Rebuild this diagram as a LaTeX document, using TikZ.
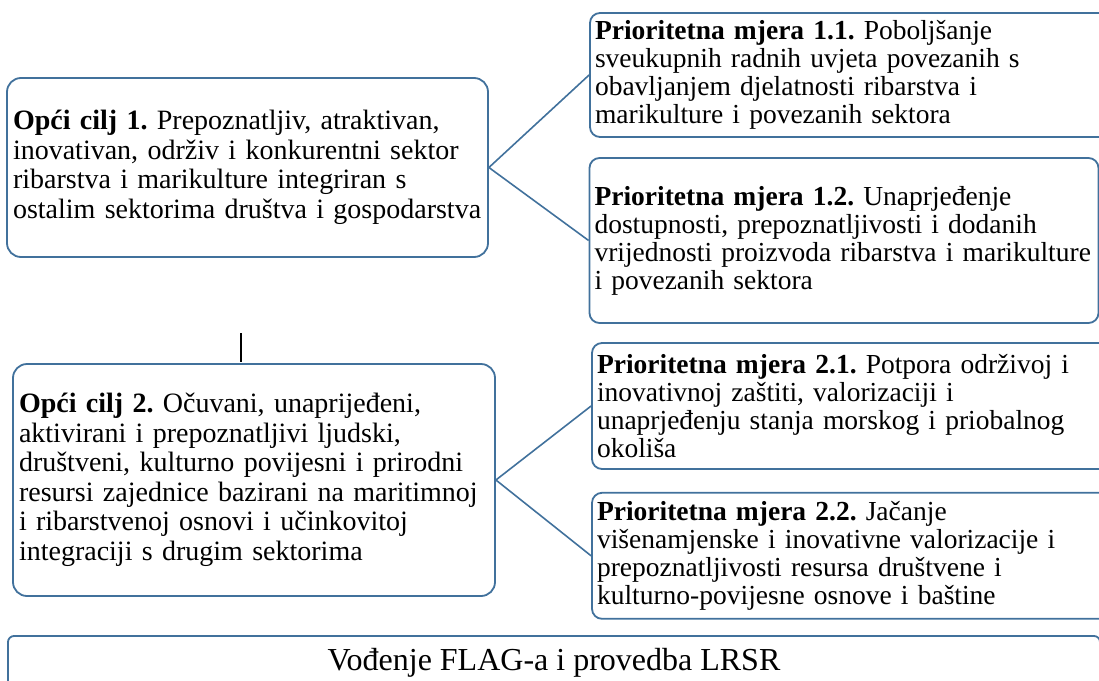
\documentclass[tikz,border=0pt]{standalone}
\usepackage{fontspec}
\setmainfont{Liberation Serif}
\frenchspacing
\usetikzlibrary{positioning}
\definecolor{rub}{HTML}{41719C}
\tikzset{
	okvir/.style={draw=rub, line width=1.8pt, align=left, inner ysep=0pt},
	cilj/.style={okvir, rounded corners=14pt, inner xsep=6pt, font=\fontsize{28}{29.5}\selectfont},
	mjera/.style={okvir, rounded corners=10pt, inner xsep=5pt, font=\fontsize{27.5}{28}\selectfont},
	veza/.style={draw=rub, line width=1.6pt}
}
\begin{document}
\begin{tikzpicture}[x=1pt, y=-1pt]
		\useasboundingbox (0,0) rectangle (1099,680);
		\node[cilj, text width=469pt, minimum height=179pt] (cilj1) at (247.5,167.5) {\textbf{Opći cilj 1.} Prepoznatljiv, atraktivan,\\ inovativan, održiv i konkurentni sektor\\ ribarstva i marikulture integriran s\\ ostalim sektorima društva i gospodarstva};
		\node[mjera, text width=510pt, minimum height=124pt] (mjera11) at (850,75) {\textbf{Prioritetna mjera 1.1.} Poboljšanje\\ sveukupnih radnih uvjeta povezanih s\\ obavljanjem djelatnosti ribarstva i\\ marikulture i povezanih sektora};
		\node[mjera, text width=499pt, minimum height=165pt] (mjera12) at (844,240.5) {\textbf{Prioritetna mjera 1.2.} Unaprjeđenje\\ dostupnosti, prepoznatljivosti i dodanih\\ vrijednosti proizvoda ribarstva i marikulture\\ i povezanih sektora};
		\node[cilj, text width=470pt, minimum height=232pt] (cilj2) at (254,480) {\textbf{Opći cilj 2.} Očuvani, unaprijeđeni,\\ aktivirani i prepoznatljivi ljudski,\\ društveni, kulturno povijesni i prirodni\\ resursi zajednice bazirani na maritimnoj\\ i ribarstvenoj osnovi i učinkovitoj\\ integraciji s drugim sektorima};
		\node[mjera, text width=508pt, minimum height=126pt] (mjera21) at (851,406) {\textbf{Prioritetna mjera 2.1.} Potpora održivoj i\\ inovativnoj zaštiti, valorizaciji i\\ unaprjeđenju stanja morskog i priobalnog\\ okoliša};
		\node[mjera, text width=508pt, minimum height=126pt, below=22pt of mjera21] (mjera22) {\textbf{Prioritetna mjera 2.2.} Jačanje\\ višenamjenske i inovativne valorizacije i\\ prepoznatljivosti resursa društvene i\\ kulturno-povijesne osnove i baštine};
		\node[okvir, rounded corners=6pt, align=center, minimum width=1092pt, minimum height=54pt, font=\fontsize{32}{34}\selectfont] (flag) at (554,663) {Vođenje FLAG-a i provedba LRSR};
		
		\path[veza] (cilj1.east) -- (mjera11.west)
				  (cilj1.east) -- (mjera12.west)
				  (cilj2.east) -- (mjera21.west)
				  (cilj2.east) -- (mjera22.west);
		\coordinate (crta) at (241,333);
		\draw[line width=1.3pt] (crta) -- ++(0,29);
	\end{tikzpicture}
\end{document}
